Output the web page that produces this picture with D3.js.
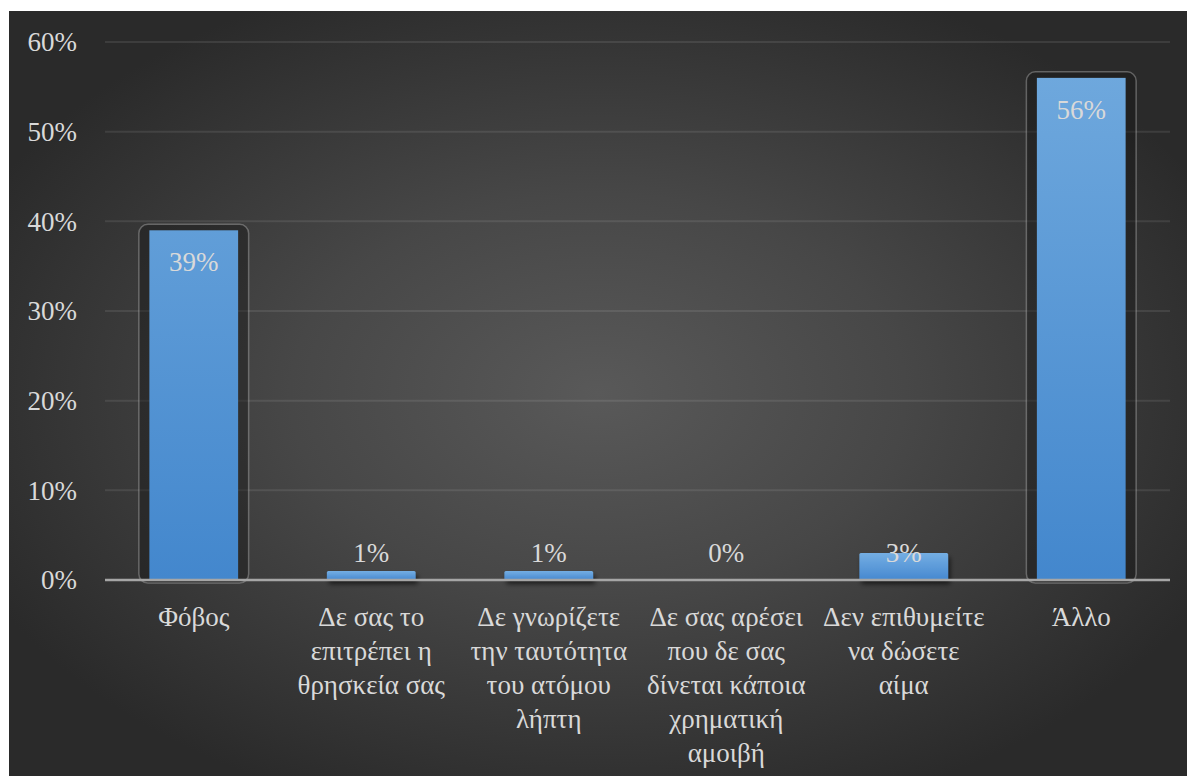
<!DOCTYPE html>
<html>
<head>
<meta charset="utf-8">
<script src="https://cdn.jsdelivr.net/npm/d3@7"></script>
</head>
<body style="margin:0; background:#ffffff">
<svg id="chart" width="1187" height="776" style="display:block"></svg>
<script>
// Survey answers: reasons for not donating blood
const categories = [
  ["Φόβος"],
  ["Δε σας το", "επιτρέπει η", "θρησκεία σας"],
  ["Δε γνωρίζετε", "την ταυτότητα", "του ατόμου", "λήπτη"],
  ["Δε σας αρέσει", "που δε σας", "δίνεται κάποια", "χρηματική", "αμοιβή"],
  ["Δεν επιθυμείτε", "να δώσετε", "αίμα"],
  ["Άλλο"]
];
const values = [0.39, 0.01, 0.01, 0.00, 0.03, 0.56];
const yTicks = [0, 0.1, 0.2, 0.3, 0.4, 0.5, 0.6];

const FONT = '"Liberation Serif"';
const FSIZE = "27px";
const TEXT = "#d9d9d9";

// serif text helper
function serif(sel) {
  return sel
    .style("font-family", FONT, "important")
    .style("font-size", FSIZE, "important")
    .attr("fill", TEXT);
}

const svg = d3.select("#chart");
const W = 1187, H = 776;

// panel geometry
const panel = { x: 9, y: 11, w: W - 9, h: H - 11 };
const plot = { left: 105, right: 1170, top: 42, bottom: 580 };

const defs = svg.append("defs");

const bg = defs.append("radialGradient")
  .attr("id", "bgGrad")
  .attr("cx", 0.5).attr("cy", 0.5).attr("r", 0.58);
bg.append("stop").attr("offset", 0).attr("stop-color", "#595959");
bg.append("stop").attr("offset", 0.45).attr("stop-color", "#474747");
bg.append("stop").attr("offset", 1).attr("stop-color", "#2a2a2a");

const barGrad = defs.append("linearGradient")
  .attr("id", "barGrad")
  .attr("gradientUnits", "userSpaceOnUse")
  .attr("x1", 0).attr("y1", plot.top).attr("x2", 0).attr("y2", plot.bottom);
barGrad.append("stop").attr("offset", 0).attr("stop-color", "#71aade");
barGrad.append("stop").attr("offset", 1).attr("stop-color", "#4387cd");

const smallGrad = defs.append("linearGradient")
  .attr("id", "smallGrad")
  .attr("x1", 0).attr("y1", 0).attr("x2", 0).attr("y2", 1);
smallGrad.append("stop").attr("offset", 0).attr("stop-color", "#74aee3");
smallGrad.append("stop").attr("offset", 1).attr("stop-color", "#4688d0");

const shadow = defs.append("filter")
  .attr("id", "shadow")
  .attr("x", "-30%").attr("y", "-60%").attr("width", "160%").attr("height", "260%");
shadow.append("feGaussianBlur").attr("in", "SourceAlpha").attr("stdDeviation", 2.5).attr("result", "b");
shadow.append("feOffset").attr("in", "b").attr("dx", 2).attr("dy", 4).attr("result", "o");
shadow.append("feComponentTransfer").attr("in", "o").attr("result", "s")
  .append("feFuncA").attr("type", "linear").attr("slope", 0.6);
const merge = shadow.append("feMerge");
merge.append("feMergeNode").attr("in", "s");
merge.append("feMergeNode").attr("in", "SourceGraphic");

// background panel
svg.append("rect")
  .attr("x", panel.x).attr("y", panel.y)
  .attr("width", panel.w).attr("height", panel.h)
  .attr("fill", "url(#bgGrad)");

const x = d3.scaleBand()
  .domain(d3.range(categories.length))
  .range([plot.left, plot.right])
  .paddingInner(0.5)
  .paddingOuter(0.25);

const y = d3.scaleLinear()
  .domain([0, 0.6])
  .range([plot.bottom, plot.top]);

// horizontal gridlines
svg.selectAll("line.grid")
  .data(yTicks.filter(d => d > 0))
  .join("line")
  .attr("class", "grid")
  .attr("x1", plot.left).attr("x2", plot.right)
  .attr("y1", d => y(d)).attr("y2", d => y(d))
  .attr("stroke", "rgba(255,255,255,0.09)")
  .attr("stroke-width", 2);

// y-axis labels
svg.selectAll("text.ytick")
  .data(yTicks)
  .join("text")
  .attr("class", "ytick")
  .attr("x", 77)
  .attr("y", d => y(d))
  .attr("dy", "0.35em")
  .attr("text-anchor", "end")
  .call(serif)
  .text(d => d3.format(".0%")(d));

// frames behind the taller columns
const frameMin = 0.1;
svg.selectAll("rect.frame")
  .data(values.map((v, i) => ({ v, i })).filter(d => d.v >= frameMin))
  .join("rect")
  .attr("class", "frame")
  .attr("x", d => x(d.i) - 10.5)
  .attr("y", d => y(d.v) - 6)
  .attr("width", x.bandwidth() + 21)
  .attr("height", d => y(0) - y(d.v) + 9)
  .attr("rx", 9)
  .attr("fill", "rgba(20,20,20,0.4)")
  .attr("stroke", "rgba(190,190,190,0.4)")
  .attr("stroke-width", 1.5);

// columns
svg.selectAll("rect.bar")
  .data(values.map((v, i) => ({ v, i })))
  .join("rect")
  .attr("class", "bar")
  .attr("x", d => x(d.i))
  .attr("y", d => y(d.v))
  .attr("width", x.bandwidth())
  .attr("height", d => y(0) - y(d.v))
  .attr("rx", d => d.v >= frameMin ? 0 : 1.5)
  .attr("fill", d => d.v >= frameMin ? "url(#barGrad)" : "url(#smallGrad)")
  .attr("filter", d => d.v >= frameMin ? null : "url(#shadow)");

// baseline
svg.append("line")
  .attr("x1", plot.left).attr("x2", plot.right)
  .attr("y1", y(0)).attr("y2", y(0))
  .attr("stroke", "#a6a6a6")
  .attr("stroke-width", 2.5);

// value labels
svg.selectAll("text.val")
  .data(values.map((v, i) => ({ v, i })))
  .join("text")
  .attr("class", "val")
  .attr("x", d => x(d.i) + x.bandwidth() / 2)
  .attr("y", d => Math.min(y(d.v) + 41, y(0) - 18))
  .attr("text-anchor", "middle")
  .call(serif)
  .text(d => d3.format(".0%")(d.v));

// category labels, one line per text element
const lineH = 34;
const catLines = categories.flatMap((lines, i) => lines.map((t, k) => ({ t, k, i })));
svg.selectAll("text.cat")
  .data(catLines)
  .join("text")
  .attr("class", "cat")
  .attr("x", d => x(d.i) + x.bandwidth() / 2)
  .attr("y", d => 626 + d.k * lineH)
  .attr("text-anchor", "middle")
  .call(serif)
  .text(d => d.t);
</script>
</body>
</html>
